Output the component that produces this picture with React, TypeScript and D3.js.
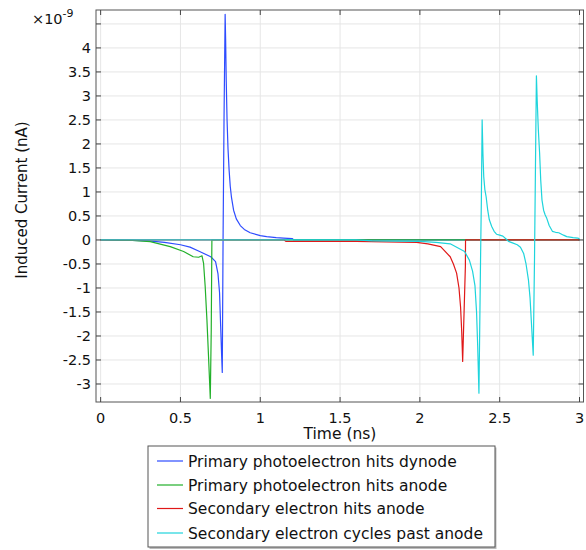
import React, { useEffect, useRef } from "react";
import * as d3 from "d3";

// time (ns) and induced current (x1e-9 nA)
const dynodeT = [0, 0.1, 0.2, 0.3, 0.4, 0.5, 0.56, 0.62, 0.69, 0.72, 0.735, 0.745, 0.752, 0.758, 0.762, 0.767, 0.773, 0.78, 0.783, 0.787, 0.792, 0.798, 0.805, 0.812, 0.82, 0.833, 0.85, 0.875, 0.9, 0.937, 1.0, 1.04, 1.1, 1.146, 1.2, 1.21, 3];
const dynodeV = [0, -0.005, -0.01, -0.02, -0.05, -0.1, -0.15, -0.24, -0.35, -0.45, -0.7, -1.1, -1.8, -2.4, -2.76, 0, 2.5, 4.7, 4.2, 3.3, 2.5, 1.9, 1.45, 1.12, 0.88, 0.62, 0.44, 0.3, 0.22, 0.15, 0.09, 0.07, 0.05, 0.04, 0.03, 0, 0];

const anodeT = [0, 0.1, 0.2, 0.311, 0.436, 0.52, 0.58, 0.614, 0.635, 0.645, 0.655, 0.666, 0.676, 0.687, 0.693, 0.697, 3];
const anodeV = [0, -0.005, -0.01, -0.035, -0.14, -0.24, -0.35, -0.36, -0.33, -0.49, -0.97, -1.67, -2.43, -3.3, -1.87, 0, 0];

const secT = [0, 1.15, 1.16, 1.6, 1.98, 2.05, 2.13, 2.19, 2.21, 2.23, 2.245, 2.255, 2.262, 2.268, 2.285, 2.286, 3];
const secV = [0, 0, -0.03, -0.03, -0.05, -0.08, -0.14, -0.35, -0.5, -0.69, -1.0, -1.4, -1.9, -2.53, -0.55, 0, 0];

const cycT = [0, 1.6, 1.7, 2.0, 2.1, 2.19, 2.28, 2.31, 2.33, 2.345, 2.355, 2.362, 2.37, 2.38, 2.385, 2.39, 2.395, 2.4, 2.407, 2.415, 2.425, 2.435, 2.45, 2.465, 2.48, 2.5, 2.52, 2.54, 2.555, 2.58, 2.61, 2.63, 2.65, 2.665, 2.68, 2.69, 2.7, 2.71, 2.718, 2.724, 2.73, 2.735, 2.742, 2.75, 2.757, 2.765, 2.775, 2.785, 2.795, 2.81, 2.83, 2.85, 2.87, 2.9, 2.92, 2.96, 2.99, 3.0];
const cycV = [0, 0, -0.02, -0.03, -0.05, -0.08, -0.24, -0.42, -0.65, -0.95, -1.5, -2.2, -3.19, -0.42, 0.8, 2.5, 1.8, 1.32, 1.05, 0.9, 0.62, 0.42, 0.28, 0.18, 0.12, 0.1, 0.08, 0.02, -0.03, -0.06, -0.1, -0.15, -0.28, -0.5, -0.83, -1.2, -1.8, -2.4, -0.42, 1.5, 3.42, 2.9, 2.3, 1.81, 1.25, 0.83, 0.62, 0.52, 0.45, 0.3, 0.18, 0.16, 0.15, 0.1, 0.07, 0.05, 0.04, 0.02];

const seriesNames = [
  "Primary photoelectron hits dynode",
  "Primary photoelectron hits anode",
  "Secondary electron hits anode",
  "Secondary electron cycles past anode",
];
const seriesColors = ["#2e4cff", "#22b02a", "#e01818", "#1ed4dc"];

const xTicks = [0, 0.5, 1, 1.5, 2, 2.5, 3];
const yTicks = [-3, -2.5, -2, -1.5, -1, -0.5, 0, 0.5, 1, 1.5, 2, 2.5, 3, 3.5, 4, 4.5];

const W = 586, H = 550;
const FONT = "'DejaVu Sans', sans-serif";

export default function App() {
  const svgRef = useRef<SVGSVGElement>(null);

  useEffect(() => {
    const svg = d3.select(svgRef.current);
    svg.selectAll("*").remove();

    const left = 96, right = 583.5, top = 10, bottom = 402;
    const x = d3.scaleLinear().domain([-0.029, 3.025]).range([left, right]);
    const y = d3.scaleLinear().domain([-3.375, 4.79]).range([bottom, top]);

    // grid
    const grid = svg.append("g").attr("stroke", "#e6e6e6").attr("stroke-width", 1);
    xTicks.forEach(t => {
      grid.append("line").attr("x1", x(t)).attr("x2", x(t)).attr("y1", top).attr("y2", bottom);
    });
    yTicks.forEach(t => {
      grid.append("line").attr("x1", left).attr("x2", right).attr("y1", y(t)).attr("y2", y(t));
    });

    // lines
    const series = [
      [dynodeT, dynodeV],
      [anodeT, anodeV],
      [secT, secV],
      [cycT, cycV],
    ];
    const line = d3.line<[number, number]>().x(d => x(d[0])).y(d => y(d[1]));
    const plot = svg.append("g");
    series.forEach(([ts, vs], i) => {
      const pts = ts.map((t, j) => [t, vs[j]] as [number, number]);
      plot.append("path")
        .attr("d", line(pts))
        .attr("fill", "none")
        .attr("stroke", seriesColors[i])
        .attr("stroke-width", 1.2)
        .attr("stroke-linejoin", "round");
    });

    // frame and inward ticks
    const ax = svg.append("g").attr("stroke", "#444").attr("stroke-width", 1);
    ax.append("rect").attr("x", left).attr("y", top).attr("width", right - left).attr("height", bottom - top)
      .attr("fill", "none").attr("stroke", "#555");
    xTicks.forEach(t => {
      ax.append("line").attr("x1", x(t)).attr("x2", x(t)).attr("y1", bottom).attr("y2", bottom - 5);
      ax.append("line").attr("x1", x(t)).attr("x2", x(t)).attr("y1", top).attr("y2", top + 5);
    });
    yTicks.forEach(t => {
      ax.append("line").attr("x1", left).attr("x2", left + 5).attr("y1", y(t)).attr("y2", y(t));
      ax.append("line").attr("x1", right).attr("x2", right - 5).attr("y1", y(t)).attr("y2", y(t));
    });

    // tick labels
    const lab = svg.append("g").attr("font-family", FONT).attr("fill", "#111").attr("font-size", 14.5);
    xTicks.forEach(t => {
      lab.append("text").attr("x", x(t)).attr("y", 423).attr("text-anchor", "middle").text(String(t));
    });
    yTicks.filter(t => t <= 4).forEach(t => {
      lab.append("text").attr("x", 91).attr("y", y(t) + 5).attr("text-anchor", "end").text(String(t));
    });

    // exponent
    const ex = svg.append("text").attr("font-family", FONT).attr("fill", "#111").attr("x", 32).attr("y", 24).attr("font-size", 14.5);
    ex.append("tspan").text("×10");
    ex.append("tspan").attr("font-size", 11).attr("dy", -7).text("-9");

    // axis titles
    svg.append("text").attr("font-family", FONT).attr("font-size", 15.5).attr("fill", "#111")
      .attr("x", 340).attr("y", 439).attr("text-anchor", "middle").text("Time (ns)");
    svg.append("text").attr("font-family", FONT).attr("font-size", 15).attr("fill", "#111")
      .attr("transform", "translate(27,200) rotate(-90)").attr("text-anchor", "middle").text("Induced Current (nA)");

    // legend
    const lg = svg.append("g");
    lg.append("rect").attr("x", 149.5).attr("y", 447.5).attr("width", 347).attr("height", 101.5)
      .attr("fill", "#bbb");
    lg.append("rect").attr("x", 148).attr("y", 446).attr("width", 347).attr("height", 101)
      .attr("fill", "#fff").attr("stroke", "#555");
    const rows = [461, 485, 508.5, 533];
    seriesNames.forEach((name, i) => {
      lg.append("line").attr("x1", 157).attr("x2", 183).attr("y1", rows[i]).attr("y2", rows[i])
        .attr("stroke", seriesColors[i]).attr("stroke-width", 1.2);
      lg.append("text").attr("x", 188).attr("y", rows[i] + 5.5).attr("font-family", FONT)
        .attr("font-size", 15.5).attr("fill", "#111").text(name);
    });
  }, []);

  return (
    <svg ref={svgRef} width={W} height={H}
      style={{ position: "absolute", left: 0, top: 0, background: "#fff" }} />
  );
}
